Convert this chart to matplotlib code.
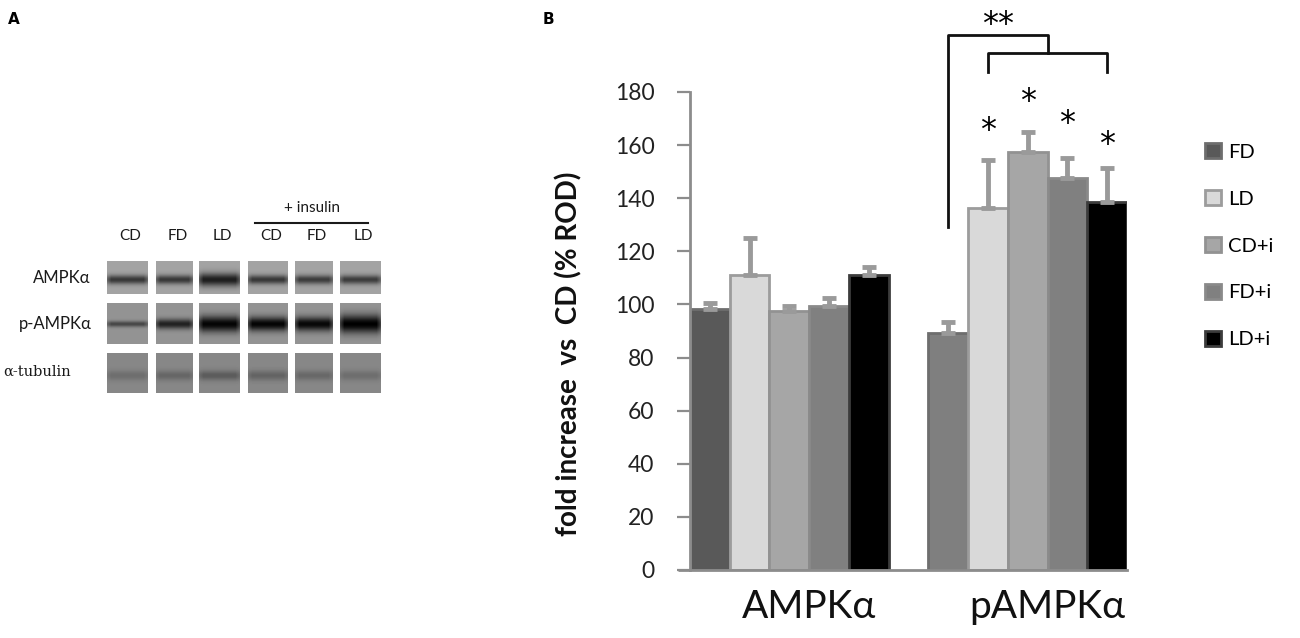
import numpy as np
import matplotlib
matplotlib.use('Agg')
import matplotlib.pyplot as plt
from matplotlib.patches import Patch

# ---------------- data ----------------
categories = ['AMPKα', 'pAMPKα']
series = ['FD', 'LD', 'CD+i', 'FD+i', 'LD+i']
ampk_vals = [98.2, 111.0, 97.6, 99.4, 111.0]
ampk_err = [2.4, 14.0, 1.8, 2.9, 3.2]
pampk_vals = [89.1, 136.2, 157.5, 147.5, 138.7]
pampk_err = [4.4, 18.2, 7.6, 7.5, 12.5]
star_bars = [1, 2, 3, 4]            # pAMPKα bars with single star
star_y = [165.5, 176.5, 168.0, 160.3]   # star positions (value units)

legend_colors = ['#595959', '#d9d9d9', '#a6a6a6', '#808080', '#000000']
ampk_colors = ['#595959', '#d9d9d9', '#a6a6a6', '#808080', '#000000']
pampk_colors = ['#7f7f7f', '#d9d9d9', '#a6a6a6', '#808080', '#000000']
edge_colors = ['#6e6e6e', '#9c9c9c', '#929292', '#8a8a8a', '#3c3c3c']

# blot (panel A)
lane_labels = ['CD', 'FD', 'LD', 'CD', 'FD', 'LD']
row_labels = ['AMPKα', 'p-AMPKα', 'α-tubulin']
band_amp = [[0.42, 0.42, 0.52, 0.42, 0.40, 0.40],
            [0.30, 0.45, 0.56, 0.56, 0.55, 0.58],
            [0.10, 0.13, 0.17, 0.14, 0.12, 0.10]]
band_sig = [[4.5, 4.5, 6.5, 4.5, 4.5, 4.5],
            [3.0, 5.0, 8.0, 7.0, 7.0, 9.0],
            [5.0, 5.0, 5.0, 5.0, 5.0, 5.0]]
row_bg = [0.64, 0.58, 0.53]

# ---------------- layout ----------------
W, H = 1300, 638
fig = plt.figure(figsize=(W / 100, H / 100), dpi=100)

ov = fig.add_axes([0, 0, 1, 1], zorder=0)
ov.set_xlim(0, W)
ov.set_ylim(H, 0)
ov.axis('off')

lane_x = [(107, 148), (156, 193), (199, 240), (248, 288), (295, 333), (340, 381)]
row_y = [(261, 294), (303, 344), (353, 393)]
band_pos = [0.55, 0.5, 0.55]

for r, (y0, y1) in enumerate(row_y):
    for c, (x0, x1) in enumerate(lane_x):
        h = y1 - y0
        w = x1 - x0
        yy, xx = np.mgrid[0:h, 0:w]
        taper = np.clip(np.minimum(xx, w - 1 - xx) / 4.0, 0, 1)
        yc = band_pos[r] * h
        img = row_bg[r] - band_amp[r][c] * np.exp(-((yy - yc) / band_sig[r][c]) ** 2) * (0.6 + 0.4 * taper)
        ov.imshow(img, cmap='gray', vmin=0, vmax=1, extent=(x0, x1, y1, y0),
                  aspect='auto', interpolation='bilinear')

lane_font = ['Lato', 'DejaVu Sans']
for c, (x0, x1) in enumerate(lane_x):
    ov.text((x0 + x1) / 2 + 3, 236, lane_labels[c], ha='center', va='center',
            fontsize=11, family=lane_font, color='#1a1a1a')
ov.text(312, 208, '+ insulin', ha='center', va='center', fontsize=11,
        family=lane_font, color='#1a1a1a')
ov.plot([255, 368], [223, 223], color='#1a1a1a', lw=1.5)
ov.text(90, 278, row_labels[0], ha='right', va='center', fontsize=12,
        family=lane_font, color='#1a1a1a')
ov.text(92, 324, row_labels[1], ha='right', va='center', fontsize=12,
        family=lane_font, color='#1a1a1a')
ov.text(3, 372, row_labels[2], ha='left', va='center', fontsize=10.5,
        family=['DejaVu Serif'], color='#1a1a1a')

ov.text(8, 20, 'A', ha='left', va='center', fontsize=11, fontweight='bold',
        family=['DejaVu Sans'])
ov.text(543, 20, 'B', ha='left', va='center', fontsize=11, fontweight='bold',
        family=['DejaVu Sans'])

# ---------------- bar chart ----------------
left = 690 / W
bottom = (H - 570) / H
width = (1127 - 690) / W
height = (570 - 92) / H
ax = fig.add_axes([left, bottom, width, height], zorder=1)
ax.patch.set_alpha(0)

font = ['Lato', 'DejaVu Sans']
group_vals = [ampk_vals, pampk_vals]
group_err = [ampk_err, pampk_err]
group_cols = [ampk_colors, pampk_colors]
n = len(series)
for g in range(len(categories)):
    xs = np.arange(n) + g * (n + 1)
    ax.bar(xs, group_vals[g], width=1.0, color=group_cols[g],
           edgecolor=edge_colors, linewidth=2.0, zorder=2)
    ax.errorbar(xs, group_vals[g], yerr=[np.zeros(n), group_err[g]], fmt='none',
                ecolor='#9a9a9a', elinewidth=3.5, capsize=4.7, capthick=3.5, zorder=3)

ax.set_xlim(-0.5, 2 * n + 0.5)
ax.set_ylim(0, 180)
ax.set_yticks(np.arange(0, 181, 20))
ax.set_xticks([(n - 1) / 2 + 0.5 + g * (n + 1) for g in range(len(categories))])
ax.set_xticklabels(categories, fontsize=28, family=font, color='#111111')
ax.tick_params(axis='x', length=0, pad=14)
ax.tick_params(axis='y', direction='out', length=9.5, width=1.6, color='#8c8c8c',
               pad=16, labelsize=16.5, labelcolor='#222222')
for lab in ax.get_yticklabels():
    lab.set_family(font)
for s in ['top', 'right']:
    ax.spines[s].set_visible(False)
for s in ['left', 'bottom']:
    ax.spines[s].set_color('#8c8c8c')
    ax.spines[s].set_linewidth(2)
# x-axis line continues left under the tick mark
ax.plot([-0.5 - 12 / 39.7, -0.5], [0, 0], color='#8c8c8c', lw=2, clip_on=False,
        solid_capstyle='butt')

ax.set_ylabel('fold increase  vs  CD (% ROD)', fontsize=20, fontweight='bold',
              family=font, color='#111111')
ax.yaxis.set_label_coords(-0.245, 0.452)

# significance marks
off = n + 1
for b, yv in zip(star_bars, star_y):
    ax.text(off + b, yv, '*', ha='center', va='center', fontsize=23,
            family=['DejaVu Sans'], clip_on=False)
ax.plot([off, off, off + 2.5, off + 2.5], [129.3, 201.4, 201.4, 194.5],
        color='#111111', lw=2, clip_on=False)
ax.plot([off + 1, off + 1, off + 4, off + 4], [187.6, 194.5, 194.5, 187.6],
        color='#111111', lw=2, clip_on=False)
ax.text(off + 1.25, 205.4, '**', ha='center', va='center', fontsize=23,
        family=['DejaVu Sans'], clip_on=False)

# legend
handles = [Patch(facecolor=legend_colors[i], edgecolor=edge_colors[i], linewidth=2)
           for i in range(n)]
fig.legend(handles, series, loc='upper left', bbox_to_anchor=(1205 / W, (H - 143) / H),
           frameon=False, prop={'family': font, 'size': 14.5},
           handlelength=0.8, handleheight=0.8, handletextpad=0.35,
           labelspacing=1.45, borderpad=0, borderaxespad=0)

fig.savefig('out.png', dpi=100)
